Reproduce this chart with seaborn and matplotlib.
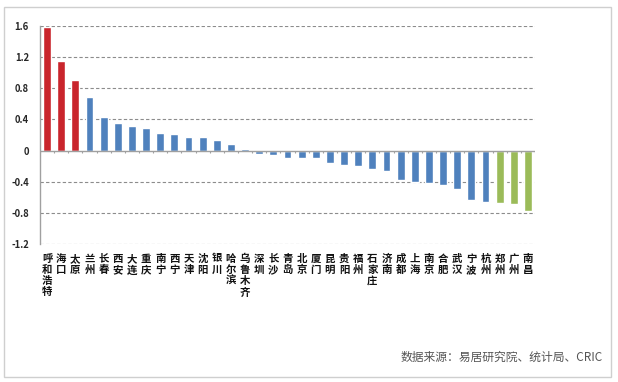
import matplotlib
matplotlib.use("Agg")
import matplotlib.pyplot as plt
import seaborn as sns
import pandas as pd
import numpy as np
from matplotlib.patches import Rectangle

cities = ["呼和浩特", "海口", "太原", "兰州", "长春", "西安", "大连", "重庆", "南宁", "西宁",
          "天津", "沈阳", "银川", "哈尔滨", "乌鲁木齐", "深圳", "长沙", "青岛", "北京", "厦门",
          "昆明", "贵阳", "福州", "石家庄", "济南", "成都", "上海", "南京", "合肥", "武汉",
          "宁波", "杭州", "郑州", "广州", "南昌"]
values = [1.59, 1.15, 0.91, 0.69, 0.43, 0.36, 0.32, 0.29, 0.22, 0.21,
          0.18, 0.17, 0.13, 0.08, 0.02, -0.05, -0.06, -0.09, -0.09, -0.09,
          -0.16, -0.18, -0.20, -0.24, -0.26, -0.38, -0.41, -0.42, -0.44, -0.49,
          -0.64, -0.66, -0.67, -0.69, -0.77]
groups = ["高"] * 3 + ["中"] * 29 + ["低"] * 3
yticks = [1.6, 1.2, 0.8, 0.4, 0, -0.4, -0.8, -1.2]
ytick_labels = ["1.6", "1.2", "0.8", "0.4", "0", "-0.4", "-0.8", "-1.2"]
source = "数据来源：易居研究院、统计局、CRIC"

palette = {"高": "#C9252C", "中": "#4F81BD", "低": "#9BBB59"}

sns.set_style("white")
plt.rcParams["font.family"] = ["Noto Sans CJK SC", "DejaVu Sans"]

df = pd.DataFrame({"city": cities, "value": values, "group": groups})

fig = plt.figure(figsize=(6.18, 3.82), dpi=100)
fig.patch.set_facecolor("white")
ax = fig.add_axes([40 / 618, 1 - 244 / 382, 495 / 618, (244 - 26) / 382])

sns.barplot(data=df, x="city", y="value", hue="group", palette=palette,
            order=cities, hue_order=["高", "中", "低"], dodge=False,
            width=0.55, legend=False, ax=ax, saturation=1)

n = len(cities)
ax.set_xlim(-0.5, n - 0.5)
ax.set_ylim(-1.2, 1.6)
for t in yticks:
    if t != 0:
        ax.axhline(t, color="#8c8c8c", lw=0.8, ls=(0, (3, 2)), zorder=0)
ax.axhline(0, color="#a0a0a0", lw=1.0, zorder=3)
ax.vlines(np.arange(n + 1) - 0.5, -0.03, 0, color="#a0a0a0", lw=0.8, zorder=3)

ax.set_yticks(yticks)
ax.set_yticklabels(ytick_labels, fontsize=6.8, fontweight="bold")
ax.tick_params(axis="y", length=0, pad=8)
ax.set_xticks(range(n))
ax.set_xticklabels(["\n".join(c) for c in cities], fontsize=7.5,
                   fontweight="black", linespacing=1.15, va="top", color="#111111")
ax.tick_params(axis="x", length=0, pad=7)
ax.set_xlabel("")
ax.set_ylabel("")
for s in ["top", "right", "bottom"]:
    ax.spines[s].set_visible(False)
ax.spines["left"].set_color("#a0a0a0")
ax.spines["left"].set_linewidth(1.0)

fig.text(603 / 618, 1 - 357 / 382, source, ha="right", va="center",
         fontsize=8.5, color="#555555", fontweight="medium")
fig.patches.append(Rectangle((4 / 618, 5 / 382), 607 / 618, 370 / 382,
                             transform=fig.transFigure, fill=False,
                             edgecolor="#cfcfcf", lw=1.0))

fig.savefig("out.png", dpi=100)
